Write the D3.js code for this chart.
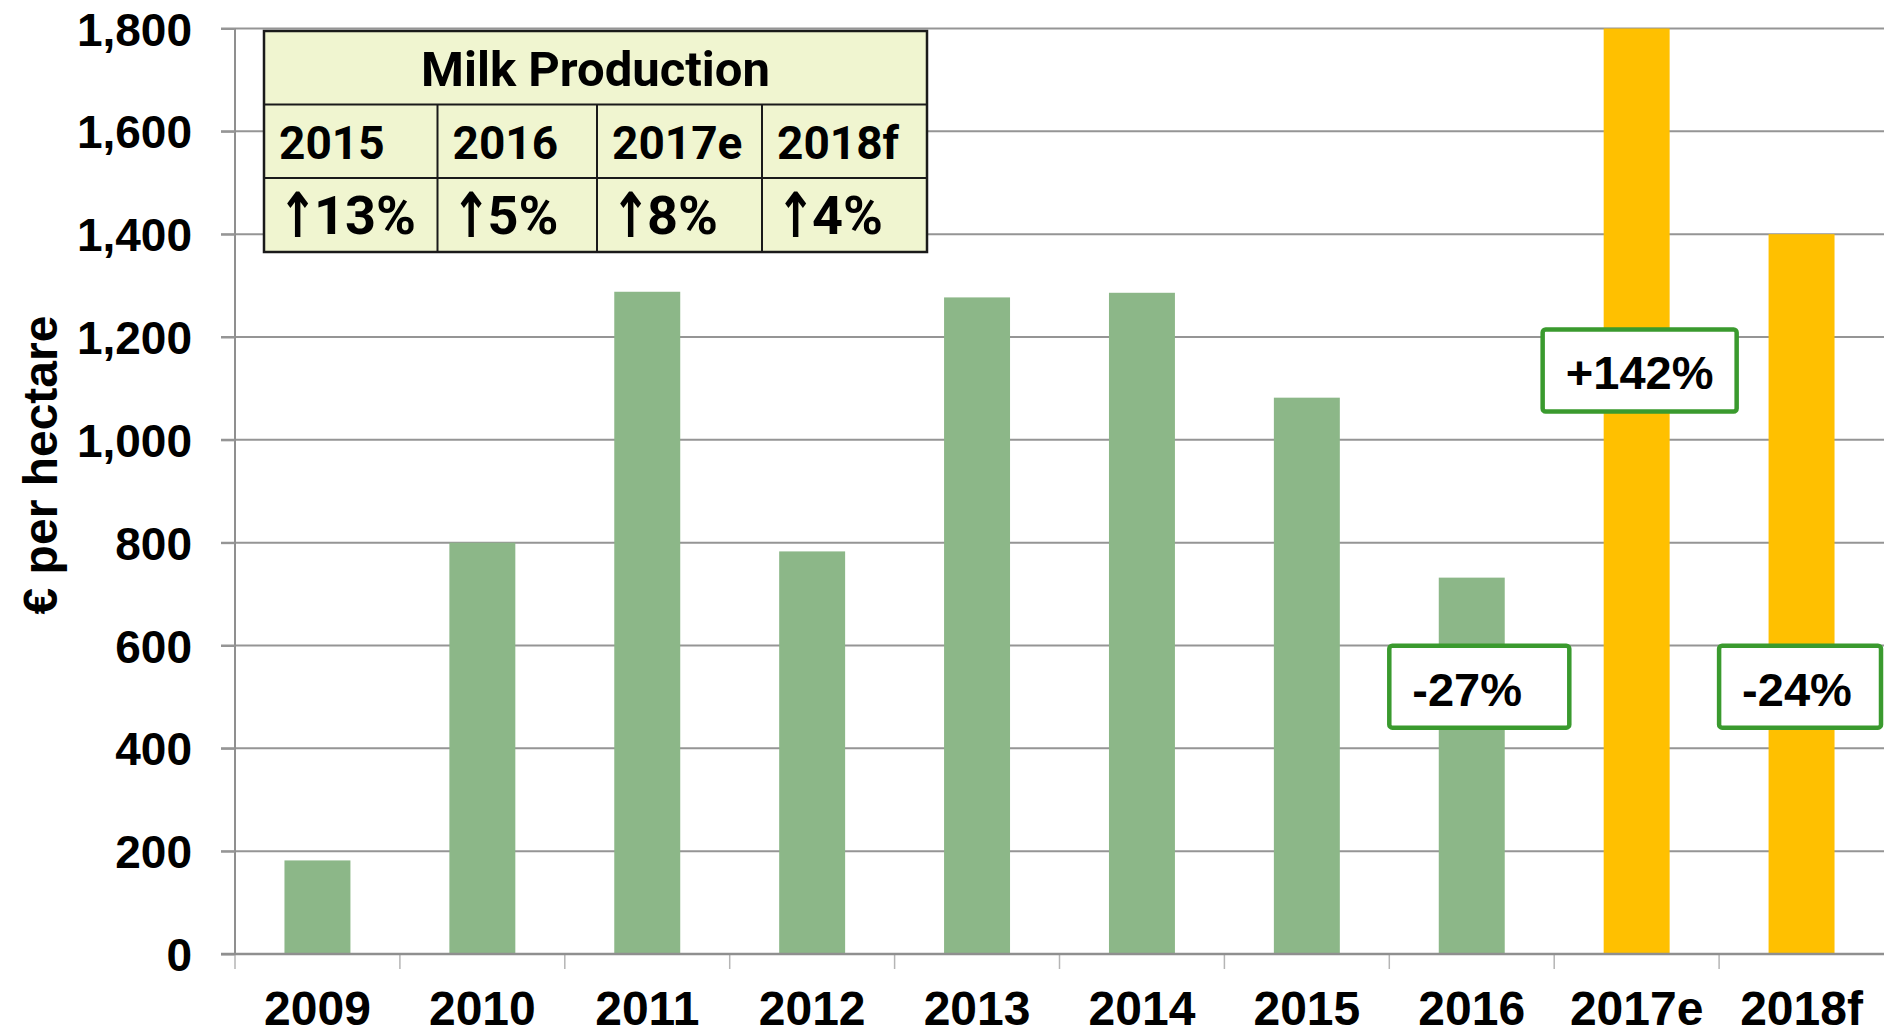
<!DOCTYPE html>
<html>
<head>
<meta charset="utf-8">
<script src="https://cdn.jsdelivr.net/npm/d3@7"></script>
<style>
	body { margin: 0; background: #fff; }
	svg { display: block; }
	.tick-label { font-family: "Liberation Sans", Arial, sans-serif; font-weight: bold; fill: #000; }
	.tbl { font-family: Roboto, "Noto Sans", sans-serif; font-weight: bold; fill: #000; }
	.arrow { font-family: "DejaVu Sans", sans-serif; font-weight: bold; fill: #000; }
</style>
</head>
<body>
<svg width="1884" height="1034"></svg>
<script>
const years = ["2009", "2010", "2011", "2012", "2013", "2014", "2015", "2016", "2017e", "2018f"];
const values = [182, 800, 1288, 783, 1277, 1286, 1082, 732, 1800, 1400];
const estimateYears = ["2017e", "2018f"];
const yTicks = [0, 200, 400, 600, 800, 1000, 1200, 1400, 1600, 1800];

const tableTitle = "Milk Production";
const tableYears = ["2015", "2016", "2017e", "2018f"];
const tableChanges = ["13%", "5%", "8%", "4%"];

const changeLabels = ["-27%", "+142%", "-24%"];
const changeYears = ["2016", "2017e", "2018f"];
const changeAt = [520, 1135, 520];

const W = 1884, H = 1034;

function renderData() {
	const svg = d3.select("svg");

	const xScale = d3.scaleBand()
					 .domain(years)
					 .range([235, W])
					 .paddingInner(0.6)
					 .paddingOuter(0.3);
	const yScale = d3.scaleLinear()
					 .domain([0, 1800])
					 .range([954, 28.5]);

	// gridlines
	svg.append("g")
	   .selectAll("line")
	   .data(yTicks.filter(d => d > 0))
	   .enter()
	   .append("line")
	   .attr("x1", 221)
	   .attr("x2", W)
	   .attr("y1", d => yScale(d))
	   .attr("y2", d => yScale(d))
	   .attr("stroke", "#959595")
	   .attr("stroke-width", 2);

	renderAxis(svg, xScale, yScale);

	svg.append("g")
	   .selectAll("rect")
	   .data(years)
	   .enter()
	   .append("rect")
	   .attr("x", d => xScale(d))
	   .attr("y", (d, i) => yScale(values[i]))
	   .attr("width", xScale.bandwidth())
	   .attr("height", (d, i) => yScale(0) - yScale(values[i]))
	   .attr("fill", d => estimateYears.includes(d) ? "#ffc000" : "#8cb788");

	// x axis line on top of bars
	svg.append("line")
	   .attr("x1", 221).attr("x2", W)
	   .attr("y1", yScale(0)).attr("y2", yScale(0))
	   .attr("stroke", "#8f8f8f")
	   .attr("stroke-width", 2.5);

	renderTable(svg);
	renderChanges(svg, xScale, yScale);
}

function renderAxis(svg, xScale, yScale) {
	const yAxis = d3.axisLeft(yScale)
					.tickValues(yTicks)
					.tickSize(14)
					.tickPadding(29)
					.tickFormat(d3.format(","));

	const yg = svg.append("g")
				  .attr("transform", "translate(235, 0)")
				  .call(yAxis);
	yg.select(".domain").attr("stroke", "#8f8f8f").attr("stroke-width", 2).attr("d", `M0,${yScale(1800)}V${yScale(0)}`);
	yg.selectAll(".tick line").attr("stroke", "#959595").attr("stroke-width", 2);
	yg.selectAll(".tick text")
	  .attr("class", "tick-label")
	  .attr("dy", "0.36em")
	  .style("font-size", "46px");

	const xAxis = d3.axisBottom(xScale)
					.tickSize(0)
					.tickPadding(37);
	const xg = svg.append("g")
				  .attr("transform", `translate(0, ${yScale(0)})`)
				  .call(xAxis);
	xg.select(".domain").remove();
	xg.selectAll(".tick text")
	  .attr("class", "tick-label")
	  .style("font-size", "48px");

	// category boundary ticks
	const gap = (xScale.step() - xScale.bandwidth()) / 2;
	const bounds = years.map(d => xScale(d) - gap);
	svg.append("g")
	   .selectAll("line")
	   .data(bounds)
	   .enter()
	   .append("line")
	   .attr("x1", d => d).attr("x2", d => d)
	   .attr("y1", yScale(0)).attr("y2", yScale(0) + 15)
	   .attr("stroke", "#b5b5b5")
	   .attr("stroke-width", 1.5);

	svg.append("text")
	   .attr("class", "tick-label")
	   .attr("transform", "translate(57, 465) rotate(-90)")
	   .attr("text-anchor", "middle")
	   .style("font-size", "48px")
	   .text("\u20ac per hectare");
}

function renderTable(svg) {
	const cols = [264, 437.5, 597, 762, 927];
	const rows = [31, 104.5, 178, 252];
	const g = svg.append("g");

	g.append("rect")
	 .attr("x", cols[0]).attr("y", rows[0])
	 .attr("width", cols[4] - cols[0]).attr("height", rows[3] - rows[0])
	 .attr("fill", "#f0f5d0")
	 .attr("stroke", "#1a1a1a")
	 .attr("stroke-width", 2.5);

	[rows[1], rows[2]].forEach(r => {
		g.append("line")
		 .attr("x1", cols[0]).attr("x2", cols[4])
		 .attr("y1", r).attr("y2", r)
		 .attr("stroke", "#1a1a1a").attr("stroke-width", 2);
	});
	cols.slice(1, 4).forEach(c => {
		g.append("line")
		 .attr("x1", c).attr("x2", c)
		 .attr("y1", rows[1]).attr("y2", rows[3])
		 .attr("stroke", "#1a1a1a").attr("stroke-width", 2);
	});

	g.append("text")
	 .attr("class", "tbl")
	 .attr("x", (cols[0] + cols[4]) / 2)
	 .attr("y", 86)
	 .attr("text-anchor", "middle")
	 .style("font-size", "49px")
	 .text(tableTitle);

	g.selectAll(".yr")
	 .data(tableYears)
	 .enter()
	 .append("text")
	 .attr("class", "tbl")
	 .attr("x", (d, i) => cols[i] + 15)
	 .attr("y", 159)
	 .style("font-size", "46px")
	 .text(d => d);

	// tall narrow arrow, like the original's
	g.selectAll(".arr")
	 .data(tableChanges)
	 .enter()
	 .append("text")
	 .attr("class", "arrow")
	 .attr("transform", (d, i) => `translate(${cols[i] + 14}, 237) scale(0.75, 1)`)
	 .style("font-size", "62px")
	 .text("\u2191");

	g.selectAll(".chg")
	 .data(tableChanges)
	 .enter()
	 .append("text")
	 .attr("class", "tbl")
	 .attr("x", (d, i) => cols[i] + 50)
	 .attr("y", 234)
	 .style("font-size", "54px")
	 .text(d => d);
}

function renderChanges(svg, xScale, yScale) {
	const gap = (xScale.step() - xScale.bandwidth()) / 2;
	const boxH = 82;

	changeLabels.forEach((label, i) => {
		const cat = changeYears[i];
		const cy = yScale(changeAt[i]);
		let left, width, anchor, tx;
		if (label.startsWith("+")) {
			width = 194;
			left = xScale(cat) + xScale.bandwidth() / 2 - width / 2 + 3;
			anchor = "middle";
			tx = left + width / 2;
		} else {
			left = xScale(cat) - gap;
			width = Math.min(180, W - 3 - left);
			anchor = "start";
			tx = left + 23;
		}
		svg.append("rect")
		   .attr("x", left).attr("y", cy - boxH / 2)
		   .attr("width", width).attr("height", boxH)
		   .attr("rx", 3)
		   .attr("fill", "#fff")
		   .attr("stroke", "#3a9a2e")
		   .attr("stroke-width", 4.5);
		svg.append("text")
		   .attr("class", "tick-label")
		   .attr("x", tx)
		   .attr("y", cy + 19)
		   .attr("text-anchor", anchor)
		   .style("font-size", "47px")
		   .text(label);
	});
}

document.addEventListener("DOMContentLoaded", renderData);
</script>
</body>
</html>
